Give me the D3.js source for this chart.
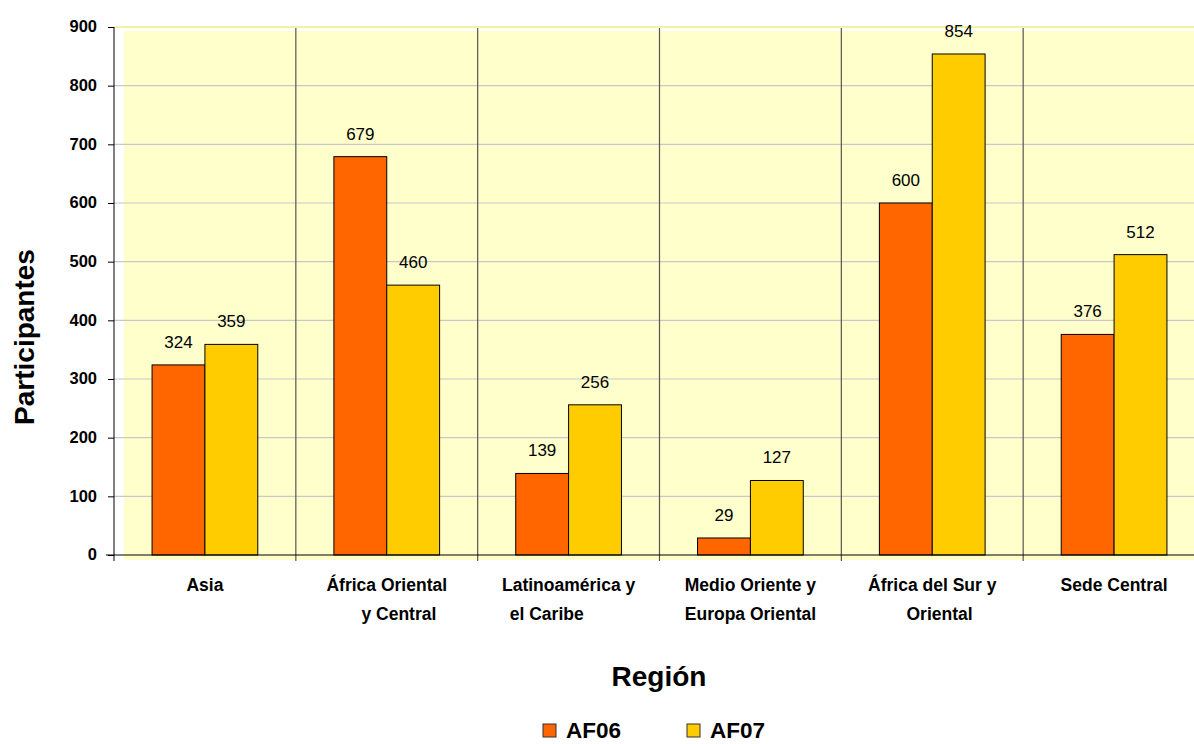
<!DOCTYPE html>
<html lang="es">
<head>
<meta charset="UTF-8">
<title>Participantes por región</title>
<script src="https://d3js.org/d3.v7.min.js"></script>
<style>
  body { margin: 0; background: #fff; }
  text { font-family: "Liberation Sans", Arial, sans-serif; white-space: pre; }
</style>
</head>
<body>
<script>
var regiones = [
  ["Asia"],
  ["África Oriental", "     y Central"],
  ["Latinoamérica y", "el Caribe         "],
  ["Medio Oriente y", "Europa Oriental"],
  ["África del Sur y", "   Oriental"],
  ["Sede Central"]
];
var series = ["AF06", "AF07"];
var af06 = [324, 679, 139, 29, 600, 376];
var af07 = [359, 460, 256, 127, 854, 512];
var yTicks = [0, 100, 200, 300, 400, 500, 600, 700, 800, 900];
var colores = ["#FF6600", "#FFCC00"];

var width = 1194, height = 744;
var mLeft = 114, mTop = 27, mBottom = 555, mRight = 1205;

var svg = d3.select("body").append("svg")
    .attr("width", width)
    .attr("height", height);

var x = d3.scaleBand().domain(d3.range(regiones.length)).range([mLeft, mRight]);
var xs = d3.scaleBand().domain(series).range([0, x.bandwidth()]).paddingOuter(0.72).paddingInner(0);
var y = d3.scaleLinear().domain([0, 900]).range([mBottom, mTop]);

// fondo del área (desplazado como en el original)
svg.append("rect")
    .attr("x", mLeft + 10).attr("y", mTop + 4)
    .attr("width", width - mLeft - 10).attr("height", mBottom + 5 - mTop - 4)
    .attr("fill", "#FFFFCC");

// líneas de cuadrícula
svg.selectAll(".grid").data(yTicks.slice(1)).enter().append("line")
    .attr("x1", mLeft).attr("x2", width)
    .attr("y1", function (d) { return y(d); })
    .attr("y2", function (d) { return y(d); })
    .attr("stroke", function (d) { return d === 900 ? "#F2F2A0" : "#C8C8C8"; })
    .attr("stroke-width", function (d) { return d === 900 ? 2 : 1.2; });

// separadores de categorías
svg.selectAll(".sep").data(d3.range(1, regiones.length)).enter().append("line")
    .attr("x1", function (i) { return x(i); })
    .attr("x2", function (i) { return x(i); })
    .attr("y1", mTop + 1).attr("y2", mBottom + 6)
    .attr("stroke", "#555").attr("stroke-width", 1.2);

// barras
var datos = [af06, af07];
series.forEach(function (s, k) {
  svg.selectAll(".bar" + k).data(datos[k]).enter().append("rect")
      .attr("x", function (d, i) { return x(i) + xs(s); })
      .attr("y", function (d) { return y(d); })
      .attr("width", xs.bandwidth())
      .attr("height", function (d) { return mBottom - y(d); })
      .attr("fill", colores[k])
      .attr("stroke", "#000").attr("stroke-width", 1);

  svg.selectAll(".lbl" + k).data(datos[k]).enter().append("text")
      .attr("x", function (d, i) { return x(i) + xs(s) + xs.bandwidth() / 2; })
      .attr("y", function (d) { return y(d) - 17; })
      .attr("text-anchor", "middle")
      .attr("font-size", 17)
      .attr("fill", "#000")
      .text(function (d) { return d; });
});

// eje Y
var yAxis = svg.append("g")
    .attr("transform", "translate(" + mLeft + ",0)")
    .call(d3.axisLeft(y).tickValues(yTicks).tickSize(6).tickPadding(11));
yAxis.select(".domain").attr("stroke", "#000").attr("d", "M0," + mTop + "V" + mBottom);
yAxis.selectAll("text").attr("font-size", 16.5).attr("font-weight", "bold")
    .attr("font-family", "Liberation Sans, Arial, sans-serif").attr("fill", "#000")
    .attr("dy", "0.3em");
yAxis.selectAll(".tick line").attr("stroke", "#000");

// eje X
svg.append("line")
    .attr("x1", mLeft - 8).attr("x2", width)
    .attr("y1", mBottom).attr("y2", mBottom)
    .attr("stroke", "#000").attr("stroke-width", 1.2);
svg.append("line")
    .attr("x1", mLeft).attr("x2", mLeft)
    .attr("y1", mBottom).attr("y2", mBottom + 6)
    .attr("stroke", "#000");

var cat = svg.selectAll(".cat").data(regiones).enter().append("text")
    .attr("text-anchor", "middle")
    .attr("font-size", 17.5)
    .attr("font-weight", "bold")
    .attr("fill", "#000")
    .attr("transform", function (d, i) {
      return "translate(" + (x(i) + x.bandwidth() / 2) + ",591)";
    });
cat.selectAll("tspan").data(function (d) { return d; }).enter().append("tspan")
    .attr("x", 0)
    .attr("dy", function (d, j) { return j === 0 ? 0 : 29; })
    .text(function (d) { return d; });

// títulos
svg.append("text")
    .attr("transform", "translate(34,337) rotate(-90)")
    .attr("text-anchor", "middle")
    .attr("font-size", 28).attr("font-weight", "bold")
    .text("Participantes");

svg.append("text")
    .attr("x", 659).attr("y", 686)
    .attr("text-anchor", "middle")
    .attr("font-size", 28).attr("font-weight", "bold")
    .text("Región");

// leyenda
var leg = svg.selectAll(".leg").data(series).enter().append("g")
    .attr("transform", function (d, i) { return "translate(" + (543 + i * 144) + ",724)"; });
leg.append("rect")
    .attr("width", 13).attr("height", 13)
    .attr("fill", function (d, i) { return colores[i]; })
    .attr("stroke", "#333").attr("stroke-width", 1);
leg.append("text")
    .attr("x", 23).attr("y", 14)
    .attr("font-size", 22.5).attr("font-weight", "bold")
    .text(function (d) { return d; });
</script>
</body>
</html>
